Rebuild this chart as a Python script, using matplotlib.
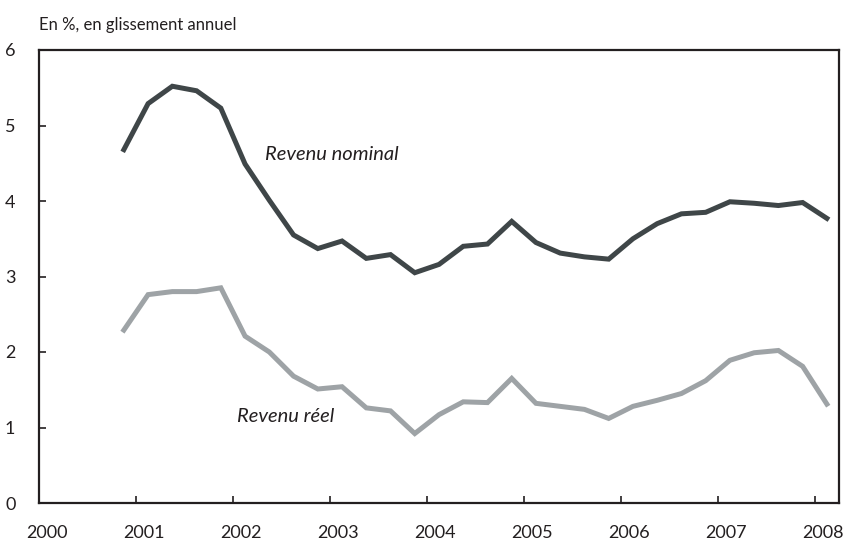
import matplotlib
matplotlib.use("Agg")
import matplotlib.pyplot as plt
import matplotlib.transforms as mtransforms

plt.rcParams['font.family'] = ['Lato', 'DejaVu Sans']

# Quarterly observations, annual growth in %
quarters = [2000.875 + 0.25 * i for i in range(30)]
revenu_nominal = [4.68, 5.29, 5.52, 5.46, 5.23, 4.49, 4.01, 3.55, 3.37, 3.47,
                  3.24, 3.29, 3.05, 3.16, 3.40, 3.43, 3.73, 3.45, 3.31, 3.26,
                  3.23, 3.50, 3.70, 3.83, 3.85, 3.99, 3.97, 3.94, 3.98, 3.77]
revenu_reel = [2.29, 2.76, 2.80, 2.80, 2.85, 2.21, 2.00, 1.68, 1.51, 1.54,
               1.26, 1.22, 0.92, 1.17, 1.34, 1.33, 1.65, 1.32, 1.28, 1.24,
               1.12, 1.28, 1.36, 1.45, 1.62, 1.89, 1.99, 2.02, 1.81, 1.31]
years = list(range(2000, 2009))
yticks = list(range(0, 7))

fig = plt.figure(figsize=(8.46, 5.44), dpi=100)
ax = fig.add_axes([39 / 846, 1 - 503 / 544, 800 / 846, 453 / 544])

ax.plot(quarters, revenu_nominal, color='#3f4648', lw=3.6, solid_joinstyle='miter')
ax.plot(quarters, revenu_reel, color='#9ea3a6', lw=3.6, solid_joinstyle='miter')

ax.set_xlim(2000, 2008.25)
ax.set_ylim(0, 6)
ax.set_xticks(years)
ax.set_xticklabels([str(y) for y in years])
ax.set_yticks(yticks)
ax.tick_params(axis='both', direction='in', length=5, width=1.2,
               labelsize=13, colors='#231f20')
ax.tick_params(axis='x', pad=16)
ax.tick_params(axis='y', pad=17)

# labels sit a bit to the right of their ticks
offset = mtransforms.ScaledTranslation(0.08, 0, fig.dpi_scale_trans)
for lbl in ax.get_xticklabels():
    lbl.set_transform(lbl.get_transform() + offset)

for s in ax.spines.values():
    s.set_linewidth(1.6)
    s.set_color('#231f20')

ax.text(2002.33, 4.61, 'Revenu nominal', style='italic', fontsize=14.5,
        va='center', color='#231f20')
ax.text(2002.04, 1.14, 'Revenu réel', style='italic', fontsize=14.5,
        va='center', color='#231f20')
fig.text(39 / 846, 1 - 25 / 544, 'En %, en glissement annuel', fontsize=12,
         va='center', ha='left', color='#231f20')

fig.savefig('out.png', dpi=100)
